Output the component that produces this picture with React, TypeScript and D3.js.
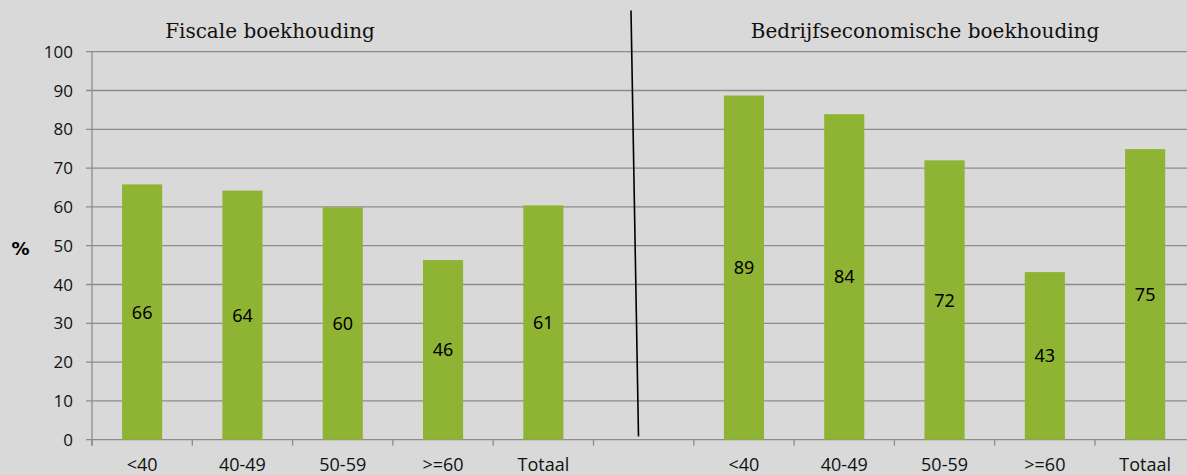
import React from "react";
import * as d3 from "d3";

const categoryKeys = ["F<40", "F40-49", "F50-59", "F>=60", "FTotaal", "gap", "B<40", "B40-49", "B50-59", "B>=60", "BTotaal"];
const categoryLabels = ["<40", "40-49", "50-59", ">=60", "Totaal", "", "<40", "40-49", "50-59", ">=60", "Totaal"];
const fiscaleValues = [65.8, 64.2, 59.9, 46.3, 60.4];
const bedrijfValues = [88.7, 83.9, 72.0, 43.2, 74.9];
const fiscaleLabels = ["66", "64", "60", "46", "61"];
const bedrijfLabels = ["89", "84", "72", "43", "75"];
const yTicks = [0, 10, 20, 30, 40, 50, 60, 70, 80, 90, 100];
const groupTitles = ["Fiscale boekhouding", "Bedrijfseconomische boekhouding"];

const W = 1187;
const H = 475;

export default function App() {
  const x0 = 92;
  const band = 100.3;
  const x = d3.scaleBand<string>().domain(categoryKeys).range([x0, x0 + band * categoryKeys.length]).paddingInner(0).paddingOuter(0);
  const y = d3.scaleLinear().domain([0, 100]).range([439.7, 51.7]);

  const bars: { key: string; value: number; label: string }[] = [];
  fiscaleValues.forEach((v, i) => bars.push({ key: categoryKeys[i], value: v, label: fiscaleLabels[i] }));
  bedrijfValues.forEach((v, i) => bars.push({ key: categoryKeys[i + 6], value: v, label: bedrijfLabels[i] }));

  const bw = x.bandwidth() * 0.4;
  const axisFont = "'Open Sans', 'Noto Sans', sans-serif";
  const tickEdges = d3.range(categoryKeys.length + 1).map((i) => x0 + i * x.bandwidth());

  return (
    <svg width={W} height={H} style={{ position: "absolute", left: 0, top: 0, display: "block" }}>
      <rect x={0} y={0} width={W} height={H} fill="#d9d9d9" />
      {yTicks.map((t) => (
        <g key={t}>
          <line x1={86} x2={W} y1={y(t)} y2={y(t)} stroke="#8c8c8c" strokeWidth={1.3} />
          <text x={73} y={y(t)} dy="0.36em" textAnchor="end" fontFamily={axisFont} fontSize={17} fill="#111">
            {t}
          </text>
        </g>
      ))}
      <line x1={x0} x2={x0} y1={y(100)} y2={y(0) + 6} stroke="#8c8c8c" strokeWidth={1.3} />
      {tickEdges.map((tx, i) => (
        <line key={i} x1={tx} x2={tx} y1={y(0)} y2={y(0) + 6} stroke="#8c8c8c" strokeWidth={1.3} />
      ))}
      {bars.map((b) => {
        const cx = (x(b.key) as number) + x.bandwidth() / 2;
        return (
          <g key={b.key}>
            <rect x={cx - bw / 2} y={y(b.value)} width={bw} height={y(0) - y(b.value)} fill="#8fb434" />
            <text x={cx} y={(y(b.value) + y(0)) / 2} dy="0.36em" textAnchor="middle" fontFamily="'Noto Sans', sans-serif" fontSize={18} fill="#000">
              {b.label}
            </text>
          </g>
        );
      })}
      {categoryKeys.map((k, i) => (
        <text key={k} x={(x(k) as number) + x.bandwidth() / 2} y={471} textAnchor="middle" fontFamily={axisFont} fontSize={18} fill="#111">
          {categoryLabels[i]}
        </text>
      ))}
      <line x1={631} y1={10.5} x2={638.5} y2={436.5} stroke="#000" strokeWidth={1.6} />
      <text x={270} y={38} textAnchor="middle" fontFamily="'DejaVu Serif', serif" fontSize={20} fill="#111">
        {groupTitles[0]}
      </text>
      <text x={925} y={38} textAnchor="middle" fontFamily="'DejaVu Serif', serif" fontSize={20} fill="#111">
        {groupTitles[1]}
      </text>
      <text x={20.5} y={248.5} dy="0.36em" textAnchor="middle" fontFamily="'DejaVu Sans', sans-serif" fontWeight="bold" fontSize={18} fill="#000">
        %
      </text>
    </svg>
  );
}
